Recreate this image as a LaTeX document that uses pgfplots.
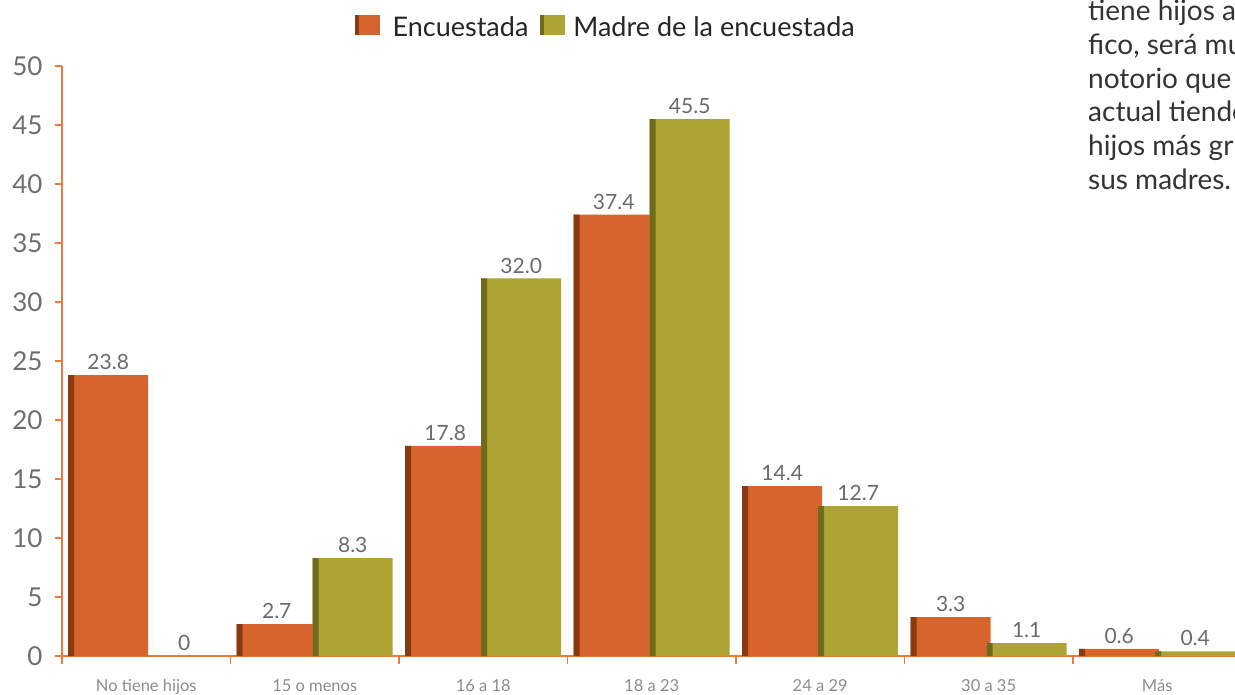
\documentclass[border=0pt]{standalone}
\usepackage{pgfplots}
\pgfplotsset{compat=1.18}
\usepackage{fontspec}
\setmainfont{Lato}
\definecolor{orangebar}{HTML}{D6642C}
\definecolor{orangedark}{HTML}{8A3A10}
\definecolor{olivebar}{HTML}{ADA434}
\definecolor{olivedark}{HTML}{6E6B1C}
\definecolor{axisorange}{HTML}{EC7A40}
\definecolor{ticklabel}{HTML}{6D6E71}
\definecolor{catlabel}{HTML}{8C8C8C}
\definecolor{valgray}{HTML}{6A6A6A}
\definecolor{textgray}{HTML}{333333}
\begin{document}
\begin{tikzpicture}
\useasboundingbox (0,0) rectangle (1235pt,694pt);
\clip (0,0) rectangle (1235pt,694pt);
\begin{axis}[
  at={(62pt,38pt)}, anchor=south west,
  scale only axis, width=1179.5pt, height=590pt,
  xmin=-0.5, xmax=6.5, ymin=0, ymax=50,
  clip=true,
  axis x line*=bottom, axis y line*=left,
  axis line style={draw=axisorange, line width=1.2pt, -},
  xtick={0,...,6},
  xticklabels={No tiene hijos,15 o menos,16 a 18,18 a 23,24 a 29,30 a 35,Más},
  minor xtick={-0.5,0.5,...,5.5},
  ytick={0,5,...,50},
  tick align=outside,
  major tick length=7pt, minor tick length=8pt,
  major x tick style={draw=none},
  minor x tick style={draw=axisorange, line width=1.2pt},
  ytick style={draw=axisorange, line width=1.2pt},
  yticklabel style={font=\fontsize{26}{26}\selectfont, text=ticklabel, xshift=-9pt},
  xticklabel style={font=\fontsize{16.5}{16.5}\selectfont, text=catlabel, yshift=-13pt},
  /pgf/number format/assume math mode=true,
  legend style={at={(0.461,1.0655)}, anchor=center, draw=none, fill=none,
    font=\fontsize{27}{27}\selectfont, text=black!85, legend columns=2,
    /tikz/every even column/.append style={column sep=10pt}},
  legend cell align=left,
  every node near coord/.append style={font=\fontsize{21}{21}\selectfont, text=valgray, anchor=south, inner sep=0pt, yshift=5pt},
]
% Encuestada
\addplot[ybar, bar width=80pt, bar shift=-38pt, fill=orangebar, draw=none,
  nodes near coords={\pgfplotspointmeta}, point meta=explicit symbolic,
  every node near coord/.append style={xshift=-38pt},
  legend image code/.code={\fill[orangedark] (0pt,-8pt) rectangle (4pt,12.5pt); \fill[orangebar] (4pt,-8pt) rectangle (25pt,12pt);}]
  coordinates {(0,23.8)[23.8] (1,2.7)[2.7] (2,17.8)[17.8] (3,37.4)[37.4] (4,14.4)[14.4] (5,3.3)[3.3] (6,0.6)[0.6]};
\addlegendentry{\hspace{11pt}Encuestada}
\addplot[ybar, bar width=6pt, bar shift=-75pt, fill=orangedark, draw=none, forget plot]
  coordinates {(0,23.8) (1,2.7) (2,17.8) (3,37.4) (4,14.4) (5,3.3) (6,0.6)};
% Madre
\addplot[ybar, bar width=80pt, bar shift=38pt, fill=olivebar, draw=none,
  nodes near coords={\pgfplotspointmeta}, point meta=explicit symbolic,
  every node near coord/.append style={xshift=38pt},
  legend image code/.code={\fill[olivedark] (0pt,-8pt) rectangle (4pt,12.5pt); \fill[olivebar] (4pt,-8pt) rectangle (25pt,12pt);}]
  coordinates {(0,0)[0] (1,8.3)[8.3] (2,32.0)[32.0] (3,45.5)[45.5] (4,12.7)[12.7] (5,1.1)[1.1] (6,0.4)[0.4]};
\addlegendentry{\hspace{6pt}Madre de la encuestada}
\addplot[ybar, bar width=6pt, bar shift=1pt, fill=olivedark, draw=none, forget plot]
  coordinates {(0,0) (1,8.3) (2,32.0) (3,45.5) (4,12.7) (5,1.1) (6,0.4)};
\end{axis}
\begin{scope}[every node/.style={anchor=base west, font=\fontsize{28}{28}\selectfont, text=textgray, inner sep=0pt}]
\node at (1088pt,673pt) {tiene hijos a};
\node at (1088pt,639pt) {fico, será mu};
\node at (1088pt,605pt) {notorio que};
\node at (1088pt,572pt) {actual tiende};
\node at (1088pt,538pt) {hijos más gr};
\node at (1088pt,504pt) {sus madres.};
\end{scope}
\end{tikzpicture}
\end{document}
